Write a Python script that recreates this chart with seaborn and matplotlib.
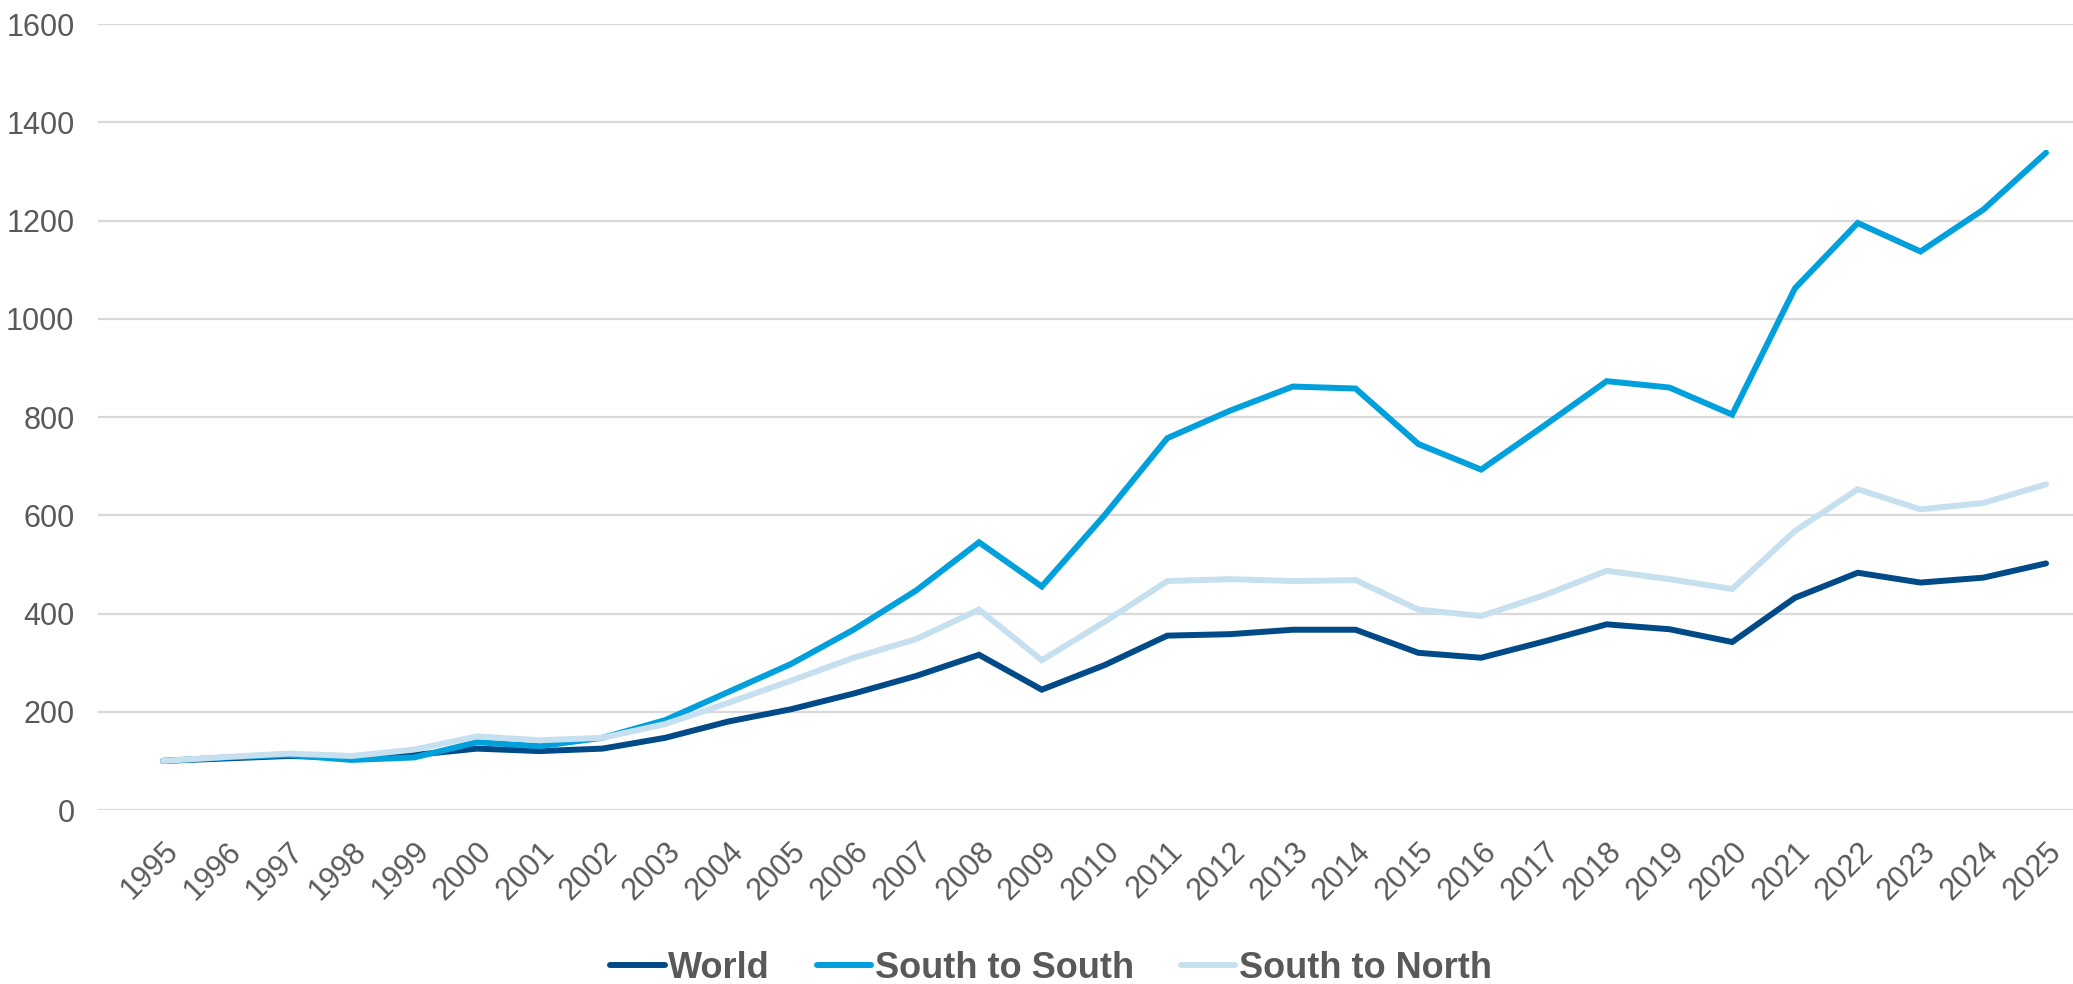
import pandas as pd
import numpy as np
import matplotlib
matplotlib.use('Agg')
import matplotlib.pyplot as plt
import matplotlib.transforms as mtransforms
import seaborn as sns

years = list(range(1995, 2026))

world = [100, 105, 110, 107, 112, 125, 120, 125, 147, 180,
         205, 237, 273, 316, 245, 295, 355, 358, 367, 367,
         320, 310, 343, 378, 368, 342, 432, 483, 463, 473, 502]

south_south = [100, 107, 112, 102, 107, 138, 130, 147, 183, 240,
               297, 367, 447, 545, 455, 600, 757, 813, 862, 858,
               745, 693, 782, 873, 860, 805, 1062, 1195, 1137, 1222, 1338]

south_north = [100, 108, 115, 110, 123, 150, 142, 147, 175, 218,
               263, 310, 348, 408, 305, 383, 466, 470, 466, 468,
               408, 395, 437, 487, 470, 450, 568, 653, 612, 625, 663]

series_names = ['World', 'South to South', 'South to North']
colors = ['#004B87', '#00A0DC', '#C6E0F0']
y_ticks = [0, 200, 400, 600, 800, 1000, 1200, 1400, 1600]

df = pd.DataFrame({
    'year': years * 3,
    'value': world + south_south + south_north,
    'series': [series_names[0]] * 31 + [series_names[1]] * 31 + [series_names[2]] * 31,
})

sns.set_style('white')
plt.rcParams['font.family'] = ['Liberation Sans', 'DejaVu Sans']

fig = plt.figure(figsize=(20.73, 9.84), dpi=100)
ax = fig.add_axes([0.0473, 0.1768, 0.9527, 0.7988])

sns.lineplot(data=df, x='year', y='value', hue='series', hue_order=series_names,
             palette=colors, linewidth=4.3, ax=ax, legend=False)
for line in ax.get_lines():
    line.set_solid_capstyle('round')
    line.set_solid_joinstyle('miter')

ax.set_xlim(1993.964, 2025.43)
ax.set_ylim(0, 1600)
ax.set_yticks(y_ticks)
ax.set_xticks(years)
ax.set_xticklabels([str(y) for y in years], rotation=45, ha='right',
                   rotation_mode='anchor')
offset = mtransforms.ScaledTranslation(5 / 100, 0, fig.dpi_scale_trans)
for lbl in ax.get_xticklabels():
    lbl.set_transform(lbl.get_transform() + offset)
ax.grid(axis='y', color='#D9D9D9', linewidth=1.6)
ax.set_axisbelow(True)
for s in ax.spines.values():
    s.set_visible(False)
ax.tick_params(axis='both', length=0, labelsize=22, colors='#595959')
ax.tick_params(axis='y', pad=17)
ax.tick_params(axis='x', pad=19)
ax.set_xlabel('')
ax.set_ylabel('')

# legend at the very bottom, centred under the plot
handles = ax.get_lines()[:3]
fig.legend(handles, series_names, loc='center', bbox_to_anchor=(0.507, 0.016),
           ncol=3, frameon=False, borderaxespad=0, borderpad=0,
           prop={'size': 26, 'weight': 'bold'}, labelcolor='#595959',
           handlelength=1.5, handletextpad=0.1, columnspacing=1.3)

fig.savefig('out.png', dpi=100)
